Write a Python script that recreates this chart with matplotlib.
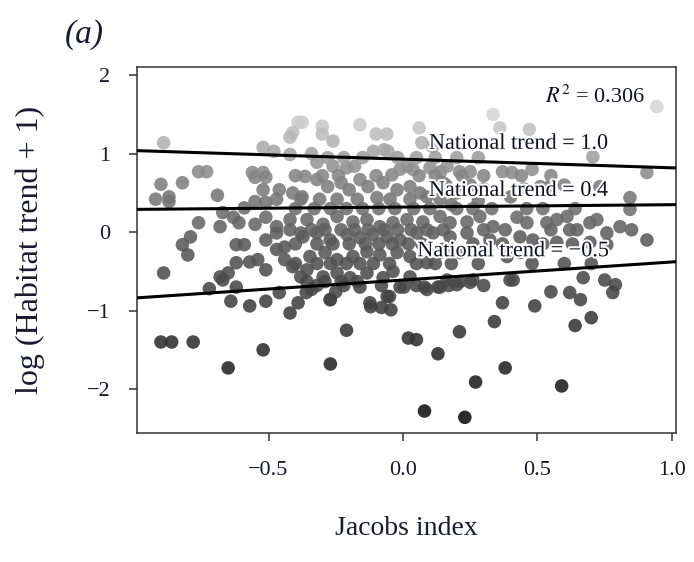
import numpy as np
import matplotlib
matplotlib.use("Agg")
import matplotlib.pyplot as plt
import matplotlib.patheffects as pe
from matplotlib.colors import LinearSegmentedColormap

plt.rcParams['font.family'] = ['Liberation Serif', 'DejaVu Serif']
plt.rcParams['mathtext.fontset'] = 'stix'

# points (Jacobs index, log(habitat trend + 1))
pts = [
    # left / upper left
    (-0.89, 1.14), (-0.39, 1.40), (-0.41, 1.27), (-0.42, 1.21),
    (-0.52, 1.08), (-0.48, 1.03), (-0.42, 0.99),
    (-0.76, 0.77), (-0.73, 0.77), (-0.56, 0.76), (-0.55, 0.70), (-0.52, 0.76), (-0.51, 0.70),
    (-0.90, 0.61), (-0.82, 0.63), (-0.69, 0.47),
    (-0.92, 0.42), (-0.87, 0.45), (-0.87, 0.39),
    (-0.52, 0.54), (-0.46, 0.54), (-0.41, 0.50), (-0.38, 0.42),
    (-0.55, 0.39), (-0.51, 0.38), (-0.47, 0.42), (-0.59, 0.31), (-0.67, 0.25),
    (-0.76, 0.12), (-0.68, 0.07), (-0.63, 0.19), (-0.61, 0.12),
    (-0.55, 0.10), (-0.51, 0.19), (-0.47, 0.07), (-0.42, 0.16), (-0.38, -0.01),
    (-0.79, -0.06), (-0.82, -0.16), (-0.62, -0.16), (-0.59, -0.16),
    (-0.51, -0.10), (-0.47, -0.01), (-0.44, -0.19),
    # left / lower left
    (-0.80, -0.29), (-0.89, -0.52),
    (-0.62, -0.39), (-0.57, -0.38), (-0.54, -0.35), (-0.51, -0.48),
    (-0.68, -0.57), (-0.65, -0.52), (-0.67, -0.61), (-0.72, -0.72), (-0.62, -0.70),
    (-0.64, -0.88), (-0.57, -0.94), (-0.51, -0.88),
    (-0.46, -0.77), (-0.42, -1.03), (-0.39, -0.90),
    (-0.47, -0.22), (-0.44, -0.35), (-0.41, -0.44), (-0.38, -0.57),
    (-0.90, -1.40), (-0.86, -1.40), (-0.78, -1.40),
    # lower middle / outliers
    (-0.36, -0.77), (-0.34, -0.73), (-0.27, -0.86), (-0.25, -0.76),
    (-0.29, -0.63), (-0.23, -0.63), (-0.17, -0.63),
    (-0.12, -0.95), (-0.08, -0.96), (-0.045, -0.99), (-0.05, -0.82),
    (0.004, -0.70), (0.08, -0.70), (0.13, -0.70), (0.20, -0.67), (0.25, -0.64),
    (0.37, -0.90), (0.34, -1.14), (0.21, -1.27), (0.02, -1.35), (0.05, -1.37),
    (-0.21, -1.25), (-0.52, -1.50), (-0.65, -1.73), (-0.27, -1.68),
    (0.13, -1.55), (0.38, -1.73), (0.27, -1.91), (0.08, -2.28), (0.23, -2.36),
    (0.59, -1.96), (0.49, -0.94), (0.55, -0.76), (0.62, -0.77), (0.66, -0.86),
    (0.64, -1.19), (0.70, -1.09), (0.67, -0.58), (0.75, -0.61), (0.79, -0.67),
    (0.78, -0.77), (0.41, -0.61),
    # top middle
    (-0.30, 1.35), (-0.30, 1.25), (-0.26, 1.16), (-0.16, 1.37),
    (-0.10, 1.25), (-0.06, 1.25), (0.06, 1.33), (-0.375, 1.40), (0.07, 1.14), (0.11, 1.09),
    (-0.34, 1.00), (-0.32, 0.89), (-0.26, 0.84), (-0.21, 0.82), (-0.18, 0.84), (-0.16, 0.67),
    (-0.11, 1.03), (-0.07, 1.05), (-0.056, 1.03), (-0.041, 0.73), (-0.011, 0.80),
    (0.015, 0.84), (0.037, 0.80), (0.10, 0.82), (0.14, 0.77),
    (-0.364, 0.71), (-0.32, 0.67), (-0.28, 0.58), (-0.23, 0.63), (-0.20, 0.54),
    (-0.13, 0.58), (-0.074, 0.63), (-0.022, 0.54), (0.026, 0.58), (0.063, 0.50),
    (-0.375, 0.45), (-0.31, 0.42), (-0.245, 0.42), (-0.17, 0.42), (-0.097, 0.44),
    (-0.048, 0.42), (0.026, 0.42), (0.089, 0.45), (0.138, 0.42),
    # top right
    (0.335, 1.50), (0.36, 1.33), (0.47, 1.31), (0.944, 1.60), (0.706, 0.96),
    (0.21, 0.77), (0.25, 0.77), (0.37, 0.77), (0.405, 0.76), (0.48, 0.80),
    (0.164, 0.84), (0.907, 0.76), (0.51, 0.58), (0.546, 0.58), (0.732, 0.58), (0.149, 0.63),
    (0.16, 0.60), (0.20, 0.50), (0.25, 0.60), (0.30, 0.55), (0.18, 0.35), (0.28, 0.40),
    (0.40, 0.45), (0.45, 0.55), (0.60, 0.60),
    # dense centre
    (-0.357, 0.16), (-0.297, 0.10), (-0.245, 0.20), (-0.186, 0.13), (-0.134, 0.16),
    (-0.086, 0.07), (-0.037, 0.12), (0.015, 0.16), (0.074, 0.13), (0.138, 0.20),
    (-0.372, -0.06), (-0.32, -0.01), (-0.271, -0.10), (-0.208, -0.03), (-0.16, -0.07),
    (-0.112, -0.03), (-0.059, -0.06), (-0.011, -0.10), (0.052, -0.01), (0.112, -0.01),
    (-0.346, -0.31), (-0.29, -0.26), (-0.245, -0.35), (-0.186, -0.31), (-0.134, -0.25),
    (-0.086, -0.29), (-0.022, -0.26), (0.026, -0.31), (0.089, -0.39), (0.138, -0.26),
    (-0.357, -0.48), (-0.297, -0.57), (-0.245, -0.52), (-0.197, -0.58), (-0.134, -0.52),
    (-0.074, -0.58), (-0.037, -0.50), (0.026, -0.57),
    (-0.357, -0.63), (-0.271, -0.86), (-0.16, -0.70), (-0.123, -0.90), (-0.059, -0.82),
    (-0.011, -0.70), (0.089, -0.73), (0.138, -0.70),
    # dense centre, points partly hidden by overlap
    (-0.28, 0.95), (-0.22, 0.95), (-0.15, 0.95), (-0.02, 0.95), (0.05, 0.95),
    (0.12, 0.95), (0.20, 0.95), (0.28, 0.95),
    (-0.40, 0.72), (-0.30, 0.72), (-0.24, 0.72), (-0.10, 0.72), (0.06, 0.72),
    (0.12, 0.72), (0.22, 0.72), (0.30, 0.72), (0.44, 0.72), (0.55, 0.72),
    (-0.40, 0.30), (-0.33, 0.30), (-0.27, 0.30), (-0.21, 0.30), (-0.15, 0.30),
    (-0.09, 0.30), (-0.03, 0.30), (0.04, 0.30), (0.10, 0.30), (0.20, 0.30),
    (0.26, 0.30), (0.33, 0.30), (0.46, 0.30), (0.52, 0.30), (0.64, 0.30),
    (-0.42, 0.03), (-0.34, 0.03), (-0.29, 0.03), (-0.23, 0.03), (-0.18, 0.03),
    (-0.13, 0.03), (-0.07, 0.03), (-0.02, 0.03), (0.03, 0.03), (0.09, 0.03),
    (0.15, 0.03), (0.30, 0.03), (0.38, 0.03), (0.55, 0.03), (0.62, 0.03), (0.85, 0.03),
    (-0.40, -0.15), (-0.32, -0.15), (-0.26, -0.15), (-0.20, -0.15), (-0.14, -0.15),
    (-0.09, -0.15), (-0.04, -0.15), (0.02, -0.15), (0.07, -0.15), (0.26, -0.15),
    (0.37, -0.15), (0.52, -0.15), (0.63, -0.15),
    (-0.40, -0.40), (-0.32, -0.40), (-0.27, -0.40), (-0.21, -0.40), (-0.16, -0.40),
    (-0.11, -0.40), (-0.05, -0.40), (0.05, -0.40), (0.12, -0.40), (0.18, -0.40),
    (0.28, -0.40), (0.48, -0.40), (0.60, -0.40), (0.70, -0.40),
    (-0.32, -0.68), (-0.22, -0.68), (-0.08, -0.68), (0.05, -0.68), (0.17, -0.68), (0.30, -0.68),
    # right centre
    (0.175, 0.12), (0.238, 0.13), (0.286, 0.20), (0.335, 0.07), (0.424, 0.19),
    (0.461, 0.12), (0.535, 0.12), (0.572, 0.16), (0.610, 0.20), (0.647, 0.03),
    (0.695, 0.12), (0.721, 0.16), (0.758, -0.01), (0.807, 0.07), (0.844, 0.29), (0.844, 0.44),
    (0.175, -0.06), (0.238, -0.01), (0.323, -0.10), (0.435, -0.06), (0.483, -0.10),
    (0.572, -0.13), (0.695, -0.13), (0.758, -0.16), (0.907, -0.10),
    (0.149, -0.22), (0.212, -0.26), (0.387, -0.31), (0.435, -0.26),
    (0.164, -0.61), (0.212, -0.63), (0.260, -0.61), (0.398, -0.61),
]
jacobs = np.array([p[0] for p in pts])
habitat = np.array([p[1] for p in pts])

# fitted lines for three national trends
trend_labels = ['National trend = 1.0', 'National trend = 0.4', 'National trend = \u22120.5']
line_intercepts = [0.93, 0.32, -0.61]
line_slopes = [-0.11, 0.03, 0.23]
label_pos = [(0.43, 1.12), (0.43, 0.52), (0.41, -0.25)]
r2 = 0.306

fig = plt.figure(figsize=(6.94, 5.62), dpi=100)
ax = fig.add_axes([0.197, 0.2295, 0.777, 0.652])

greys = LinearSegmentedColormap.from_list(
    'greys', [(0.0, '#0d0d0d'), (0.33, '#3a3a3a'), (0.6, '#5c5c5c'),
              (0.8, '#858585'), (1.0, '#d6d6d6')])
ax.scatter(jacobs, habitat, c=habitat, cmap=greys, vmin=-2.4, vmax=1.5,
           s=95, linewidths=0, alpha=0.88, zorder=2)

xx = np.array([-1.1, 1.1])
for b0, b1 in zip(line_intercepts, line_slopes):
    ax.plot(xx, b0 + b1 * xx, color='black', lw=2.2, zorder=3)

halo = [pe.withStroke(linewidth=3, foreground='white')]
for lab, (tx, ty) in zip(trend_labels, label_pos):
    ax.text(tx, ty, lab, ha='center', va='center', fontsize=16,
            color='#111122', path_effects=halo, zorder=4)
ax.text(0.90, 1.73, f'$R^2$ = {r2:.3f}', ha='right', va='center', fontsize=16,
        color='#111122', zorder=4)

ax.set_xlim(-0.99, 1.015)
ax.set_ylim(-2.56, 2.11)
ax.set_xticks([-0.5, 0.0, 0.5, 1.0])
ax.set_xticklabels(['\u22120.5', '0.0', '0.5', '1.0'])
ax.set_yticks([-2, -1, 0, 1, 2])
ax.set_yticklabels(['\u22122', '\u22121', '0', '1', '2'])
ax.tick_params(length=6, width=1.1, color='#333333', labelsize=16,
               labelcolor='#1a1a2e')
ax.tick_params(axis='x', pad=14)
ax.tick_params(axis='y', pad=13)
for sp in ax.spines.values():
    sp.set_linewidth(1.1)
    sp.set_color('#333333')

ax.set_xlabel('Jacobs index', fontsize=20, labelpad=26, color='#1a1a2e')
ax.set_ylabel('log (Habitat trend + 1)', fontsize=23, labelpad=30, color='#1a1a2e')

fig.text(0.094, 0.938, '(a)', style='italic', fontsize=24, va='center',
         color='#1a1a2e')

fig.savefig('out.png', dpi=100)
